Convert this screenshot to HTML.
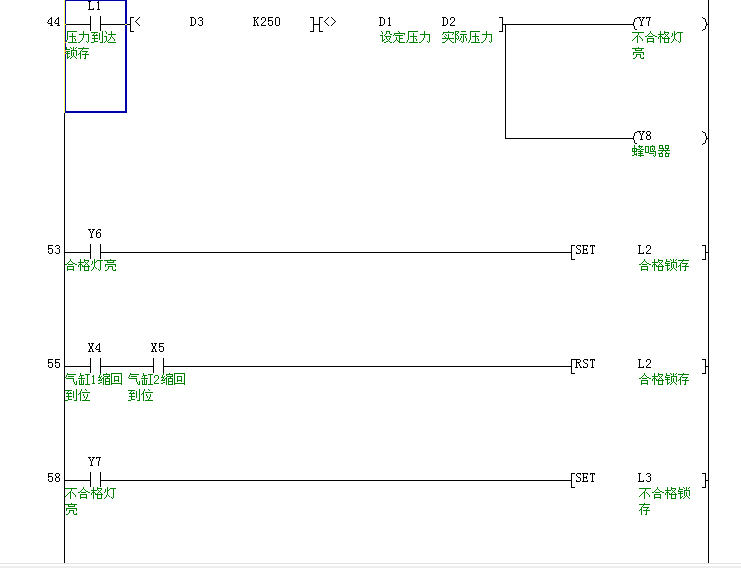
<!DOCTYPE html><html><head><meta charset="utf-8"><title>Ladder</title><style>
html,body{margin:0;padding:0;background:#fff}body{width:741px;height:568px;position:relative;overflow:hidden}
.t,.c{position:absolute;font-family:"Liberation Mono",monospace;font-size:12px;line-height:13px;color:transparent;white-space:pre}
svg{position:absolute;left:0;top:0}
</style></head><body>
<div class="t" style="left:47px;top:15px">44</div>
<div class="t" style="left:88px;top:-1px">L1</div>
<div class="t" style="left:135px;top:15px">&lt;</div>
<div class="t" style="left:190px;top:15px">D3</div>
<div class="t" style="left:253px;top:15px">K250</div>
<div class="t" style="left:324px;top:15px">&lt;&gt;</div>
<div class="t" style="left:379px;top:15px">D1</div>
<div class="t" style="left:442px;top:15px">D2</div>
<div class="t" style="left:638px;top:15px">Y7</div>
<div class="t" style="left:638px;top:129px">Y8</div>
<div class="t" style="left:47px;top:243px">53</div>
<div class="t" style="left:88px;top:227px">Y6</div>
<div class="t" style="left:575px;top:243px">SET</div>
<div class="t" style="left:638px;top:243px">L2</div>
<div class="t" style="left:47px;top:357px">55</div>
<div class="t" style="left:88px;top:341px">X4</div>
<div class="t" style="left:151px;top:341px">X5</div>
<div class="t" style="left:575px;top:357px">RST</div>
<div class="t" style="left:638px;top:357px">L2</div>
<div class="t" style="left:47px;top:471px">58</div>
<div class="t" style="left:88px;top:455px">Y7</div>
<div class="t" style="left:575px;top:471px">SET</div>
<div class="t" style="left:638px;top:471px">L3</div>
<div class="c" style="left:65px;top:30px">压力到达</div>
<div class="c" style="left:65px;top:46px">锁存</div>
<div class="c" style="left:380px;top:30px">设定压力</div>
<div class="c" style="left:442px;top:30px">实际压力</div>
<div class="c" style="left:632px;top:30px">不合格灯</div>
<div class="c" style="left:632px;top:46px">亮</div>
<div class="c" style="left:632px;top:144px">蜂鸣器</div>
<div class="c" style="left:65px;top:258px">合格灯亮</div>
<div class="c" style="left:639px;top:258px">合格锁存</div>
<div class="c" style="left:65px;top:372px">气缸1缩回</div>
<div class="c" style="left:65px;top:388px">到位</div>
<div class="c" style="left:128px;top:372px">气缸2缩回</div>
<div class="c" style="left:128px;top:388px">到位</div>
<div class="c" style="left:639px;top:372px">合格锁存</div>
<div class="c" style="left:65px;top:486px">不合格灯</div>
<div class="c" style="left:65px;top:502px">亮</div>
<div class="c" style="left:639px;top:486px">不合格锁</div>
<div class="c" style="left:639px;top:502px">存</div>
<svg width="741" height="568" viewBox="0 0 741 568" shape-rendering="crispEdges"><defs><path id="g0" d="M2 0h10v1h-10zM2 1h1v1h-1zM2 2h1v1h-1zM7 2h1v1h-1zM2 3h1v1h-1zM7 3h1v1h-1zM2 4h1v1h-1zM7 4h1v1h-1zM2 5h1v1h-1zM4 5h7v1h-7zM2 6h1v1h-1zM7 6h1v1h-1zM2 7h1v1h-1zM7 7h1v1h-1zM9 7h1v1h-1zM2 8h1v1h-1zM7 8h1v1h-1zM10 8h1v1h-1zM1 9h1v1h-1zM7 9h1v1h-1zM10 9h1v1h-1zM1 10h1v1h-1zM7 10h1v1h-1zM0 11h1v1h-1zM3 11h9v1h-9z"/><path id="g1" d="M5 0h1v1h-1zM5 1h1v1h-1zM5 2h1v1h-1zM1 3h10v1h-10zM5 4h1v1h-1zM10 4h1v1h-1zM5 5h1v1h-1zM10 5h1v1h-1zM5 6h1v1h-1zM10 6h1v1h-1zM4 7h1v1h-1zM10 7h1v1h-1zM4 8h1v1h-1zM10 8h1v1h-1zM3 9h1v1h-1zM10 9h1v1h-1zM2 10h1v1h-1zM8 10h1v1h-1zM10 10h1v1h-1zM0 11h2v1h-2zM9 11h1v1h-1z"/><path id="g2" d="M11 0h1v1h-1zM0 1h7v1h-7zM11 1h1v1h-1zM3 2h1v1h-1zM8 2h1v1h-1zM11 2h1v1h-1zM2 3h1v1h-1zM5 3h1v1h-1zM8 3h1v1h-1zM11 3h1v1h-1zM1 4h6v1h-6zM8 4h1v1h-1zM11 4h1v1h-1zM3 5h1v1h-1zM8 5h1v1h-1zM11 5h1v1h-1zM3 6h1v1h-1zM8 6h1v1h-1zM11 6h1v1h-1zM1 7h6v1h-6zM8 7h1v1h-1zM11 7h1v1h-1zM3 8h1v1h-1zM8 8h1v1h-1zM11 8h1v1h-1zM3 9h1v1h-1zM11 9h1v1h-1zM3 10h4v1h-4zM11 10h1v1h-1zM0 11h3v1h-3zM9 11h3v1h-3z"/><path id="g3" d="M1 0h1v1h-1zM7 0h1v1h-1zM2 1h1v1h-1zM7 1h1v1h-1zM2 2h1v1h-1zM7 2h1v1h-1zM4 3h8v1h-8zM7 4h1v1h-1zM0 5h3v1h-3zM7 5h1v1h-1zM2 6h1v1h-1zM6 6h1v1h-1zM8 6h1v1h-1zM2 7h1v1h-1zM6 7h1v1h-1zM9 7h1v1h-1zM2 8h1v1h-1zM5 8h1v1h-1zM10 8h1v1h-1zM2 9h1v1h-1zM4 9h1v1h-1zM10 9h1v1h-1zM1 10h1v1h-1zM3 10h1v1h-1zM0 11h1v1h-1zM4 11h8v1h-8z"/><path id="g4" d="M1 0h1v1h-1zM5 0h1v1h-1zM8 0h1v1h-1zM11 0h1v1h-1zM1 1h1v1h-1zM6 1h1v1h-1zM8 1h1v1h-1zM10 1h1v1h-1zM1 2h4v1h-4zM8 2h1v1h-1zM0 3h1v1h-1zM6 3h6v1h-6zM0 4h5v1h-5zM6 4h1v1h-1zM11 4h1v1h-1zM2 5h1v1h-1zM6 5h1v1h-1zM8 5h1v1h-1zM11 5h1v1h-1zM0 6h5v1h-5zM6 6h1v1h-1zM8 6h1v1h-1zM11 6h1v1h-1zM2 7h1v1h-1zM6 7h1v1h-1zM8 7h1v1h-1zM11 7h1v1h-1zM2 8h1v1h-1zM6 8h1v1h-1zM8 8h1v1h-1zM11 8h1v1h-1zM2 9h1v1h-1zM4 9h1v1h-1zM7 9h1v1h-1zM9 9h1v1h-1zM2 10h2v1h-2zM6 10h1v1h-1zM10 10h1v1h-1zM2 11h1v1h-1zM5 11h1v1h-1zM11 11h1v1h-1z"/><path id="g5" d="M5 0h1v1h-1zM0 1h11v1h-11zM4 2h1v1h-1zM3 3h1v1h-1zM2 4h1v1h-1zM4 4h6v1h-6zM2 5h1v1h-1zM8 5h1v1h-1zM1 6h2v1h-2zM7 6h1v1h-1zM0 7h1v1h-1zM2 7h1v1h-1zM4 7h7v1h-7zM2 8h1v1h-1zM7 8h1v1h-1zM2 9h1v1h-1zM7 9h1v1h-1zM2 10h1v1h-1zM7 10h1v1h-1zM2 11h1v1h-1zM6 11h2v1h-2z"/><path id="g6" d="M1 0h1v1h-1zM6 0h4v1h-4zM2 1h1v1h-1zM6 1h1v1h-1zM9 1h1v1h-1zM2 2h1v1h-1zM6 2h1v1h-1zM9 2h1v1h-1zM5 3h1v1h-1zM10 3h2v1h-2zM0 4h3v1h-3zM4 4h1v1h-1zM2 5h1v1h-1zM5 5h6v1h-6zM2 6h1v1h-1zM6 6h1v1h-1zM10 6h1v1h-1zM2 7h1v1h-1zM6 7h1v1h-1zM9 7h1v1h-1zM2 8h1v1h-1zM4 8h1v1h-1zM7 8h1v1h-1zM9 8h1v1h-1zM2 9h2v1h-2zM8 9h1v1h-1zM2 10h1v1h-1zM6 10h2v1h-2zM9 10h1v1h-1zM4 11h2v1h-2zM10 11h2v1h-2z"/><path id="g7" d="M5 0h1v1h-1zM6 1h1v1h-1zM1 2h11v1h-11zM1 3h1v1h-1zM11 3h1v1h-1zM0 4h1v1h-1zM2 4h8v1h-8zM6 5h1v1h-1zM3 6h1v1h-1zM6 6h1v1h-1zM3 7h1v1h-1zM6 7h4v1h-4zM3 8h1v1h-1zM6 8h1v1h-1zM2 9h1v1h-1zM4 9h1v1h-1zM6 9h1v1h-1zM1 10h1v1h-1zM5 10h2v1h-2zM0 11h1v1h-1zM6 11h6v1h-6z"/><path id="g8" d="M6 0h1v1h-1zM1 1h11v1h-11zM1 2h1v1h-1zM11 2h1v1h-1zM0 3h1v1h-1zM3 3h1v1h-1zM6 3h1v1h-1zM10 3h1v1h-1zM4 4h1v1h-1zM6 4h1v1h-1zM2 5h1v1h-1zM6 5h1v1h-1zM3 6h1v1h-1zM6 6h1v1h-1zM0 7h12v1h-12zM5 8h1v1h-1zM7 8h1v1h-1zM4 9h1v1h-1zM8 9h1v1h-1zM3 10h1v1h-1zM9 10h1v1h-1zM0 11h3v1h-3zM10 11h2v1h-2z"/><path id="g9" d="M0 0h4v1h-4zM6 0h5v1h-5zM0 1h1v1h-1zM3 1h1v1h-1zM0 2h1v1h-1zM2 2h1v1h-1zM0 3h2v1h-2zM5 3h7v1h-7zM0 4h1v1h-1zM2 4h1v1h-1zM8 4h1v1h-1zM0 5h1v1h-1zM3 5h1v1h-1zM6 5h1v1h-1zM8 5h1v1h-1zM10 5h1v1h-1zM0 6h1v1h-1zM3 6h1v1h-1zM6 6h1v1h-1zM8 6h1v1h-1zM10 6h1v1h-1zM0 7h2v1h-2zM3 7h1v1h-1zM5 7h1v1h-1zM8 7h1v1h-1zM11 7h1v1h-1zM0 8h1v1h-1zM2 8h1v1h-1zM5 8h1v1h-1zM8 8h1v1h-1zM11 8h1v1h-1zM0 9h1v1h-1zM4 9h1v1h-1zM8 9h1v1h-1zM11 9h1v1h-1zM0 10h1v1h-1zM6 10h1v1h-1zM8 10h1v1h-1zM0 11h1v1h-1zM7 11h1v1h-1z"/><path id="g10" d="M0 1h12v1h-12zM6 2h1v1h-1zM6 3h1v1h-1zM5 4h1v1h-1zM4 5h2v1h-2zM7 5h1v1h-1zM3 6h1v1h-1zM5 6h1v1h-1zM8 6h1v1h-1zM2 7h1v1h-1zM5 7h1v1h-1zM9 7h1v1h-1zM1 8h1v1h-1zM5 8h1v1h-1zM10 8h1v1h-1zM0 9h1v1h-1zM5 9h1v1h-1zM10 9h1v1h-1zM5 10h1v1h-1zM5 11h1v1h-1z"/><path id="g11" d="M5 0h1v1h-1zM5 1h1v1h-1zM4 2h1v1h-1zM6 2h1v1h-1zM3 3h1v1h-1zM7 3h1v1h-1zM2 4h1v1h-1zM8 4h2v1h-2zM0 5h2v1h-2zM3 5h5v1h-5zM10 5h2v1h-2zM2 7h7v1h-7zM2 8h1v1h-1zM8 8h1v1h-1zM2 9h1v1h-1zM8 9h1v1h-1zM2 10h7v1h-7zM2 11h1v1h-1zM8 11h1v1h-1z"/><path id="g12" d="M2 0h1v1h-1zM6 0h1v1h-1zM2 1h1v1h-1zM6 1h5v1h-5zM2 2h1v1h-1zM6 2h1v1h-1zM10 2h1v1h-1zM0 3h6v1h-6zM7 3h1v1h-1zM9 3h1v1h-1zM2 4h1v1h-1zM8 4h1v1h-1zM1 5h3v1h-3zM7 5h1v1h-1zM9 5h1v1h-1zM0 6h1v1h-1zM2 6h1v1h-1zM4 6h1v1h-1zM6 6h1v1h-1zM10 6h1v1h-1zM0 7h1v1h-1zM2 7h1v1h-1zM4 7h8v1h-8zM2 8h1v1h-1zM6 8h1v1h-1zM10 8h1v1h-1zM2 9h1v1h-1zM6 9h1v1h-1zM10 9h1v1h-1zM2 10h1v1h-1zM6 10h1v1h-1zM10 10h1v1h-1zM2 11h1v1h-1zM6 11h5v1h-5z"/><path id="g13" d="M3 0h1v1h-1zM3 1h1v1h-1zM6 1h6v1h-6zM1 2h1v1h-1zM3 2h1v1h-1zM5 2h1v1h-1zM9 2h1v1h-1zM1 3h1v1h-1zM3 3h2v1h-2zM9 3h1v1h-1zM1 4h1v1h-1zM3 4h1v1h-1zM9 4h1v1h-1zM0 5h1v1h-1zM3 5h1v1h-1zM9 5h1v1h-1zM3 6h1v1h-1zM9 6h1v1h-1zM3 7h1v1h-1zM9 7h1v1h-1zM2 8h1v1h-1zM4 8h1v1h-1zM9 8h1v1h-1zM2 9h1v1h-1zM5 9h1v1h-1zM9 9h1v1h-1zM1 10h1v1h-1zM7 10h1v1h-1zM9 10h1v1h-1zM0 11h1v1h-1zM8 11h1v1h-1z"/><path id="g14" d="M6 0h1v1h-1zM0 1h12v1h-12zM3 2h1v1h-1zM9 2h1v1h-1zM3 3h7v1h-7zM1 5h11v1h-11zM1 6h1v1h-1zM11 6h1v1h-1zM1 7h1v1h-1zM4 7h5v1h-5zM11 7h1v1h-1zM4 8h1v1h-1zM8 8h1v1h-1zM4 9h1v1h-1zM8 9h1v1h-1zM3 10h1v1h-1zM8 10h1v1h-1zM11 10h1v1h-1zM1 11h2v1h-2zM9 11h3v1h-3z"/><path id="g15" d="M2 0h1v1h-1zM7 0h1v1h-1zM2 1h1v1h-1zM6 1h5v1h-5zM2 2h1v1h-1zM7 2h1v1h-1zM9 2h1v1h-1zM0 3h5v1h-5zM8 3h1v1h-1zM0 4h1v1h-1zM2 4h1v1h-1zM4 4h4v1h-4zM9 4h3v1h-3zM0 5h1v1h-1zM2 5h1v1h-1zM4 5h1v1h-1zM8 5h1v1h-1zM0 6h5v1h-5zM6 6h5v1h-5zM2 7h1v1h-1zM8 7h1v1h-1zM2 8h1v1h-1zM4 8h1v1h-1zM6 8h5v1h-5zM2 9h3v1h-3zM8 9h1v1h-1zM0 10h2v1h-2zM4 10h1v1h-1zM6 10h6v1h-6zM8 11h1v1h-1z"/><path id="g16" d="M7 0h1v1h-1zM0 1h4v1h-4zM5 1h5v1h-5zM0 2h1v1h-1zM3 2h1v1h-1zM5 2h1v1h-1zM9 2h1v1h-1zM0 3h1v1h-1zM3 3h1v1h-1zM5 3h1v1h-1zM7 3h1v1h-1zM9 3h1v1h-1zM0 4h1v1h-1zM3 4h1v1h-1zM5 4h1v1h-1zM7 4h1v1h-1zM9 4h1v1h-1zM0 5h1v1h-1zM3 5h1v1h-1zM5 5h1v1h-1zM8 5h1v1h-1zM0 6h1v1h-1zM3 6h1v1h-1zM5 6h6v1h-6zM0 7h4v1h-4zM10 7h1v1h-1zM4 8h5v1h-5zM10 8h1v1h-1zM10 9h1v1h-1zM8 10h1v1h-1zM10 10h1v1h-1zM9 11h1v1h-1z"/><path id="g17" d="M1 0h4v1h-4zM7 0h4v1h-4zM1 1h1v1h-1zM4 1h1v1h-1zM7 1h1v1h-1zM10 1h1v1h-1zM1 2h1v1h-1zM4 2h1v1h-1zM7 2h1v1h-1zM10 2h1v1h-1zM1 3h5v1h-5zM7 3h4v1h-4zM5 4h1v1h-1zM9 4h1v1h-1zM0 5h12v1h-12zM4 6h1v1h-1zM7 6h1v1h-1zM3 7h1v1h-1zM8 7h1v1h-1zM0 8h5v1h-5zM7 8h5v1h-5zM1 9h1v1h-1zM4 9h1v1h-1zM7 9h1v1h-1zM10 9h1v1h-1zM1 10h1v1h-1zM4 10h1v1h-1zM7 10h1v1h-1zM10 10h1v1h-1zM1 11h4v1h-4zM7 11h4v1h-4z"/><path id="g18" d="M2 0h1v1h-1zM2 1h9v1h-9zM1 2h1v1h-1zM1 3h1v1h-1zM3 3h6v1h-6zM0 4h1v1h-1zM1 5h8v1h-8zM8 6h1v1h-1zM8 7h1v1h-1zM8 8h1v1h-1zM11 8h1v1h-1zM9 9h1v1h-1zM11 9h1v1h-1zM9 10h1v1h-1zM11 10h1v1h-1zM10 11h2v1h-2z"/><path id="g19" d="M2 0h1v1h-1zM2 1h1v1h-1zM7 1h5v1h-5zM2 2h4v1h-4zM9 2h1v1h-1zM1 3h1v1h-1zM3 3h1v1h-1zM9 3h1v1h-1zM3 4h1v1h-1zM9 4h1v1h-1zM0 5h7v1h-7zM9 5h1v1h-1zM3 6h1v1h-1zM9 6h1v1h-1zM1 7h1v1h-1zM3 7h1v1h-1zM5 7h1v1h-1zM9 7h1v1h-1zM1 8h1v1h-1zM3 8h1v1h-1zM5 8h1v1h-1zM9 8h1v1h-1zM1 9h1v1h-1zM3 9h1v1h-1zM5 9h1v1h-1zM9 9h1v1h-1zM1 10h1v1h-1zM3 10h1v1h-1zM5 10h1v1h-1zM9 10h1v1h-1zM1 11h5v1h-5zM7 11h5v1h-5z"/><path id="g20" d="M3 0h1v1h-1zM2 1h2v1h-2zM3 2h1v1h-1zM3 3h1v1h-1zM3 4h1v1h-1zM3 5h1v1h-1zM3 6h1v1h-1zM3 7h1v1h-1zM2 8h3v1h-3z"/><path id="g21" d="M2 0h1v1h-1zM8 0h1v1h-1zM2 1h1v1h-1zM5 1h7v1h-7zM1 2h1v1h-1zM5 2h1v1h-1zM11 2h1v1h-1zM1 3h1v1h-1zM3 3h1v1h-1zM6 3h6v1h-6zM0 4h3v1h-3zM5 4h1v1h-1zM9 4h1v1h-1zM2 5h1v1h-1zM4 5h2v1h-2zM7 5h5v1h-5zM1 6h1v1h-1zM3 6h1v1h-1zM5 6h1v1h-1zM7 6h1v1h-1zM11 6h1v1h-1zM0 7h4v1h-4zM5 7h1v1h-1zM7 7h1v1h-1zM11 7h1v1h-1zM5 8h1v1h-1zM7 8h5v1h-5zM2 9h2v1h-2zM5 9h1v1h-1zM7 9h1v1h-1zM11 9h1v1h-1zM0 10h2v1h-2zM5 10h1v1h-1zM7 10h1v1h-1zM11 10h1v1h-1zM5 11h1v1h-1zM7 11h5v1h-5z"/><path id="g22" d="M0 0h11v1h-11zM0 1h1v1h-1zM10 1h1v1h-1zM0 2h1v1h-1zM10 2h1v1h-1zM0 3h1v1h-1zM3 3h5v1h-5zM10 3h1v1h-1zM0 4h1v1h-1zM3 4h1v1h-1zM7 4h1v1h-1zM10 4h1v1h-1zM0 5h1v1h-1zM3 5h1v1h-1zM7 5h1v1h-1zM10 5h1v1h-1zM0 6h1v1h-1zM3 6h1v1h-1zM7 6h1v1h-1zM10 6h1v1h-1zM0 7h1v1h-1zM3 7h5v1h-5zM10 7h1v1h-1zM0 8h1v1h-1zM3 8h1v1h-1zM7 8h1v1h-1zM10 8h1v1h-1zM0 9h1v1h-1zM10 9h1v1h-1zM0 10h11v1h-11zM0 11h1v1h-1zM10 11h1v1h-1z"/><path id="g23" d="M3 0h1v1h-1zM7 0h1v1h-1zM3 1h1v1h-1zM8 1h1v1h-1zM2 2h1v1h-1zM2 3h1v1h-1zM4 3h8v1h-8zM1 4h2v1h-2zM0 5h1v1h-1zM2 5h1v1h-1zM5 5h1v1h-1zM9 5h1v1h-1zM2 6h1v1h-1zM5 6h1v1h-1zM9 6h1v1h-1zM2 7h1v1h-1zM6 7h1v1h-1zM9 7h1v1h-1zM2 8h1v1h-1zM6 8h1v1h-1zM8 8h1v1h-1zM2 9h1v1h-1zM8 9h1v1h-1zM2 10h1v1h-1zM7 10h1v1h-1zM2 11h1v1h-1zM4 11h8v1h-8z"/><path id="g24" d="M2 0h3v1h-3zM1 1h1v1h-1zM5 1h1v1h-1zM1 2h1v1h-1zM5 2h1v1h-1zM5 3h1v1h-1zM4 4h1v1h-1zM3 5h1v1h-1zM2 6h1v1h-1zM1 7h1v1h-1zM1 8h5v1h-5z"/><path id="g25" d="M4 0h1v1h-1zM3 1h2v1h-2zM2 2h1v1h-1zM4 2h1v1h-1zM1 3h1v1h-1zM4 3h1v1h-1zM1 4h1v1h-1zM4 4h1v1h-1zM0 5h1v1h-1zM4 5h1v1h-1zM1 6h4v1h-4zM4 7h1v1h-1zM3 8h3v1h-3z"/><path id="g26" d="M0 0h3v1h-3zM1 1h1v1h-1zM1 2h1v1h-1zM1 3h1v1h-1zM1 4h1v1h-1zM1 5h1v1h-1zM1 6h1v1h-1zM1 7h1v1h-1zM5 7h1v1h-1zM0 8h6v1h-6z"/><path id="g27" d="M4 0h1v1h-1zM3 1h1v1h-1zM2 2h1v1h-1zM1 3h1v1h-1zM0 4h1v1h-1zM1 5h1v1h-1zM2 6h1v1h-1zM3 7h1v1h-1zM4 8h1v1h-1z"/><path id="g28" d="M0 0h4v1h-4zM1 1h1v1h-1zM4 1h1v1h-1zM1 2h1v1h-1zM5 2h1v1h-1zM1 3h1v1h-1zM5 3h1v1h-1zM1 4h1v1h-1zM5 4h1v1h-1zM1 5h1v1h-1zM5 5h1v1h-1zM1 6h1v1h-1zM5 6h1v1h-1zM1 7h1v1h-1zM4 7h1v1h-1zM0 8h4v1h-4z"/><path id="g29" d="M2 0h3v1h-3zM1 1h1v1h-1zM5 1h1v1h-1zM5 2h1v1h-1zM3 3h2v1h-2zM5 4h1v1h-1zM5 5h1v1h-1zM5 6h1v1h-1zM1 7h1v1h-1zM5 7h1v1h-1zM2 8h3v1h-3z"/><path id="g30" d="M0 0h3v1h-3zM4 0h2v1h-2zM1 1h1v1h-1zM4 1h1v1h-1zM1 2h1v1h-1zM3 2h1v1h-1zM1 3h2v1h-2zM1 4h1v1h-1zM3 4h1v1h-1zM1 5h1v1h-1zM3 5h1v1h-1zM1 6h1v1h-1zM4 6h1v1h-1zM1 7h1v1h-1zM4 7h1v1h-1zM0 8h3v1h-3zM4 8h2v1h-2z"/><path id="g31" d="M1 0h5v1h-5zM1 1h1v1h-1zM1 2h1v1h-1zM1 3h4v1h-4zM1 4h1v1h-1zM5 4h1v1h-1zM5 5h1v1h-1zM1 6h1v1h-1zM5 6h1v1h-1zM1 7h1v1h-1zM5 7h1v1h-1zM2 8h3v1h-3z"/><path id="g32" d="M2 0h3v1h-3zM1 1h1v1h-1zM5 1h1v1h-1zM1 2h1v1h-1zM5 2h1v1h-1zM1 3h1v1h-1zM5 3h1v1h-1zM1 4h1v1h-1zM5 4h1v1h-1zM1 5h1v1h-1zM5 5h1v1h-1zM1 6h1v1h-1zM5 6h1v1h-1zM1 7h1v1h-1zM5 7h1v1h-1zM2 8h3v1h-3z"/><path id="g33" d="M0 0h1v1h-1zM1 1h1v1h-1zM2 2h1v1h-1zM3 3h1v1h-1zM4 4h1v1h-1zM3 5h1v1h-1zM2 6h1v1h-1zM1 7h1v1h-1zM0 8h1v1h-1z"/><path id="g34" d="M0 0h3v1h-3zM4 0h3v1h-3zM1 1h1v1h-1zM5 1h1v1h-1zM2 2h1v1h-1zM4 2h1v1h-1zM2 3h1v1h-1zM4 3h1v1h-1zM3 4h1v1h-1zM3 5h1v1h-1zM3 6h1v1h-1zM3 7h1v1h-1zM2 8h3v1h-3z"/><path id="g35" d="M1 0h5v1h-5zM1 1h1v1h-1zM4 1h1v1h-1zM4 2h1v1h-1zM4 3h1v1h-1zM3 4h1v1h-1zM3 5h1v1h-1zM3 6h1v1h-1zM3 7h1v1h-1zM3 8h1v1h-1z"/><path id="g36" d="M2 0h3v1h-3zM1 1h1v1h-1zM5 1h1v1h-1zM1 2h1v1h-1zM5 2h1v1h-1zM2 3h1v1h-1zM4 3h1v1h-1zM2 4h3v1h-3zM1 5h1v1h-1zM5 5h1v1h-1zM1 6h1v1h-1zM5 6h1v1h-1zM1 7h1v1h-1zM5 7h1v1h-1zM2 8h3v1h-3z"/><path id="g37" d="M3 0h3v1h-3zM2 1h1v1h-1zM5 1h1v1h-1zM1 2h1v1h-1zM1 3h1v1h-1zM3 3h2v1h-2zM1 4h2v1h-2zM5 4h1v1h-1zM1 5h1v1h-1zM5 5h1v1h-1zM1 6h1v1h-1zM5 6h1v1h-1zM1 7h1v1h-1zM5 7h1v1h-1zM2 8h3v1h-3z"/><path id="g38" d="M2 0h4v1h-4zM1 1h1v1h-1zM5 1h1v1h-1zM1 2h1v1h-1zM2 3h1v1h-1zM3 4h2v1h-2zM5 5h1v1h-1zM5 6h1v1h-1zM1 7h1v1h-1zM5 7h1v1h-1zM1 8h4v1h-4z"/><path id="g39" d="M0 0h6v1h-6zM1 1h1v1h-1zM5 1h1v1h-1zM1 2h1v1h-1zM1 3h1v1h-1zM4 3h1v1h-1zM1 4h4v1h-4zM1 5h1v1h-1zM4 5h1v1h-1zM1 6h1v1h-1zM1 7h1v1h-1zM5 7h1v1h-1zM0 8h6v1h-6z"/><path id="g40" d="M1 0h5v1h-5zM1 1h1v1h-1zM3 1h1v1h-1zM5 1h1v1h-1zM3 2h1v1h-1zM3 3h1v1h-1zM3 4h1v1h-1zM3 5h1v1h-1zM3 6h1v1h-1zM3 7h1v1h-1zM2 8h3v1h-3z"/><path id="g41" d="M0 0h2v1h-2zM3 0h3v1h-3zM1 1h1v1h-1zM4 1h1v1h-1zM1 2h1v1h-1zM4 2h1v1h-1zM2 3h2v1h-2zM2 4h2v1h-2zM2 5h2v1h-2zM1 6h1v1h-1zM4 6h1v1h-1zM1 7h1v1h-1zM4 7h1v1h-1zM0 8h3v1h-3zM4 8h2v1h-2z"/><path id="g42" d="M0 0h5v1h-5zM1 1h1v1h-1zM5 1h1v1h-1zM1 2h1v1h-1zM5 2h1v1h-1zM1 3h4v1h-4zM1 4h1v1h-1zM3 4h1v1h-1zM1 5h1v1h-1zM4 5h1v1h-1zM1 6h1v1h-1zM4 6h1v1h-1zM1 7h1v1h-1zM5 7h1v1h-1zM0 8h3v1h-3zM5 8h2v1h-2z"/></defs><path fill="#000" d="M64 0h1v563h-1zM708 0h1v563h-1zM65 24h26v1h-26zM90 16h1v15h-1zM100 16h1v15h-1zM100 24h31v1h-31zM130 17h1v15h-1zM130 17h4v1h-4zM130 31h4v1h-4zM313 17h1v15h-1zM310 17h4v1h-4zM310 31h4v1h-4zM313 24h7v1h-7zM319 17h1v15h-1zM319 17h4v1h-4zM319 31h4v1h-4zM502 17h1v15h-1zM499 17h4v1h-4zM499 31h4v1h-4zM503 24h130v1h-130zM637 17h1v1h-1zM635 18h1v1h-1zM636 18h1v1h-1zM634 19h1v1h-1zM634 20h1v1h-1zM634 21h1v1h-1zM633 22h1v1h-1zM633 23h1v1h-1zM633 24h1v1h-1zM633 25h1v1h-1zM634 26h1v1h-1zM634 27h1v1h-1zM634 28h1v1h-1zM635 29h1v1h-1zM636 29h1v1h-1zM702 17h1v1h-1zM703 18h1v1h-1zM704 18h1v1h-1zM705 19h1v1h-1zM705 20h1v1h-1zM705 21h1v1h-1zM706 22h1v1h-1zM706 23h1v1h-1zM706 24h1v1h-1zM706 25h1v1h-1zM705 26h1v1h-1zM705 27h1v1h-1zM705 28h1v1h-1zM703 29h1v1h-1zM704 29h1v1h-1zM702 30h1v1h-1zM707 24h1v1h-1zM505 24h1v115h-1zM505 138h128v1h-128zM637 131h1v1h-1zM635 132h1v1h-1zM636 132h1v1h-1zM634 133h1v1h-1zM634 134h1v1h-1zM634 135h1v1h-1zM633 136h1v1h-1zM633 137h1v1h-1zM633 138h1v1h-1zM633 139h1v1h-1zM634 140h1v1h-1zM634 141h1v1h-1zM634 142h1v1h-1zM635 143h1v1h-1zM636 143h1v1h-1zM702 131h1v1h-1zM703 132h1v1h-1zM704 132h1v1h-1zM705 133h1v1h-1zM705 134h1v1h-1zM705 135h1v1h-1zM706 136h1v1h-1zM706 137h1v1h-1zM706 138h1v1h-1zM706 139h1v1h-1zM705 140h1v1h-1zM705 141h1v1h-1zM705 142h1v1h-1zM703 143h1v1h-1zM704 143h1v1h-1zM702 144h1v1h-1zM707 138h1v1h-1zM65 252h26v1h-26zM90 244h1v15h-1zM100 244h1v15h-1zM100 252h472v1h-472zM571 245h1v15h-1zM571 245h4v1h-4zM571 259h4v1h-4zM705 245h1v15h-1zM702 245h4v1h-4zM702 259h4v1h-4zM706 252h2v1h-2zM65 366h26v1h-26zM90 358h1v15h-1zM100 358h1v15h-1zM100 366h54v1h-54zM153 358h1v15h-1zM163 358h1v15h-1zM163 366h409v1h-409zM571 359h1v15h-1zM571 359h4v1h-4zM571 373h4v1h-4zM705 359h1v15h-1zM702 359h4v1h-4zM702 373h4v1h-4zM706 366h2v1h-2zM65 480h26v1h-26zM90 472h1v15h-1zM100 472h1v15h-1zM100 480h472v1h-472zM571 473h1v15h-1zM571 473h4v1h-4zM571 487h4v1h-4zM705 473h1v15h-1zM702 473h4v1h-4zM702 487h4v1h-4zM706 480h2v1h-2z"/><path fill="#e2e2e2" d="M0 563h741v1h-741z"/><path fill="#eeeeee" d="M0 566h741v2h-741z"/><g fill="#000"><use href="#g25" x="47" y="17"/><use href="#g25" x="54" y="17"/><use href="#g26" x="88" y="1"/><use href="#g20" x="95" y="1"/><use href="#g27" x="135" y="17"/><use href="#g28" x="190" y="17"/><use href="#g29" x="197" y="17"/><use href="#g30" x="253" y="17"/><use href="#g24" x="260" y="17"/><use href="#g31" x="267" y="17"/><use href="#g32" x="274" y="17"/><use href="#g27" x="324" y="17"/><use href="#g33" x="331" y="17"/><use href="#g28" x="379" y="17"/><use href="#g20" x="386" y="17"/><use href="#g28" x="442" y="17"/><use href="#g24" x="449" y="17"/><use href="#g34" x="638" y="17"/><use href="#g35" x="645" y="17"/><use href="#g34" x="638" y="131"/><use href="#g36" x="645" y="131"/><use href="#g31" x="47" y="245"/><use href="#g29" x="54" y="245"/><use href="#g34" x="88" y="229"/><use href="#g37" x="95" y="229"/><use href="#g38" x="575" y="245"/><use href="#g39" x="582" y="245"/><use href="#g40" x="589" y="245"/><use href="#g26" x="638" y="245"/><use href="#g24" x="645" y="245"/><use href="#g31" x="47" y="359"/><use href="#g31" x="54" y="359"/><use href="#g41" x="88" y="343"/><use href="#g25" x="95" y="343"/><use href="#g41" x="151" y="343"/><use href="#g31" x="158" y="343"/><use href="#g42" x="575" y="359"/><use href="#g38" x="582" y="359"/><use href="#g40" x="589" y="359"/><use href="#g26" x="638" y="359"/><use href="#g24" x="645" y="359"/><use href="#g31" x="47" y="473"/><use href="#g36" x="54" y="473"/><use href="#g34" x="88" y="457"/><use href="#g35" x="95" y="457"/><use href="#g38" x="575" y="473"/><use href="#g39" x="582" y="473"/><use href="#g40" x="589" y="473"/><use href="#g26" x="638" y="473"/><use href="#g29" x="645" y="473"/></g><g fill="#008000"><use href="#g0" x="65" y="31"/><use href="#g1" x="78" y="31"/><use href="#g2" x="91" y="31"/><use href="#g3" x="104" y="31"/><use href="#g4" x="65" y="47"/><use href="#g5" x="78" y="47"/><use href="#g6" x="380" y="31"/><use href="#g7" x="393" y="31"/><use href="#g0" x="406" y="31"/><use href="#g1" x="419" y="31"/><use href="#g8" x="442" y="31"/><use href="#g9" x="455" y="31"/><use href="#g0" x="468" y="31"/><use href="#g1" x="481" y="31"/><use href="#g10" x="632" y="31"/><use href="#g11" x="645" y="31"/><use href="#g12" x="658" y="31"/><use href="#g13" x="671" y="31"/><use href="#g14" x="632" y="47"/><use href="#g15" x="632" y="145"/><use href="#g16" x="645" y="145"/><use href="#g17" x="658" y="145"/><use href="#g11" x="65" y="259"/><use href="#g12" x="78" y="259"/><use href="#g13" x="91" y="259"/><use href="#g14" x="104" y="259"/><use href="#g11" x="639" y="259"/><use href="#g12" x="652" y="259"/><use href="#g4" x="665" y="259"/><use href="#g5" x="678" y="259"/><use href="#g18" x="65" y="373"/><use href="#g19" x="78" y="373"/><use href="#g20" x="90" y="375"/><use href="#g21" x="98" y="373"/><use href="#g22" x="111" y="373"/><use href="#g2" x="65" y="389"/><use href="#g23" x="78" y="389"/><use href="#g18" x="128" y="373"/><use href="#g19" x="141" y="373"/><use href="#g24" x="153" y="375"/><use href="#g21" x="161" y="373"/><use href="#g22" x="174" y="373"/><use href="#g2" x="128" y="389"/><use href="#g23" x="141" y="389"/><use href="#g11" x="639" y="373"/><use href="#g12" x="652" y="373"/><use href="#g4" x="665" y="373"/><use href="#g5" x="678" y="373"/><use href="#g10" x="65" y="487"/><use href="#g11" x="78" y="487"/><use href="#g12" x="91" y="487"/><use href="#g13" x="104" y="487"/><use href="#g14" x="65" y="503"/><use href="#g10" x="639" y="487"/><use href="#g11" x="652" y="487"/><use href="#g12" x="665" y="487"/><use href="#g4" x="678" y="487"/><use href="#g5" x="639" y="503"/></g><path fill="#0000a8" d="M64 0h2v113h-2zM125 0h2v113h-2zM66 0h59v1h-59zM66 111h59v2h-59z"/><path fill="#ffff57" d="M64 0h1v113h-1zM65 24h1v1h-1zM125 24h1v1h-1zM126 24h1v1h-1z"/><path fill="#ff7f57" d="M65 42h1v1h-1zM65 50h1v2h-1zM65 53h1v1h-1z"/></svg>
</body></html>
